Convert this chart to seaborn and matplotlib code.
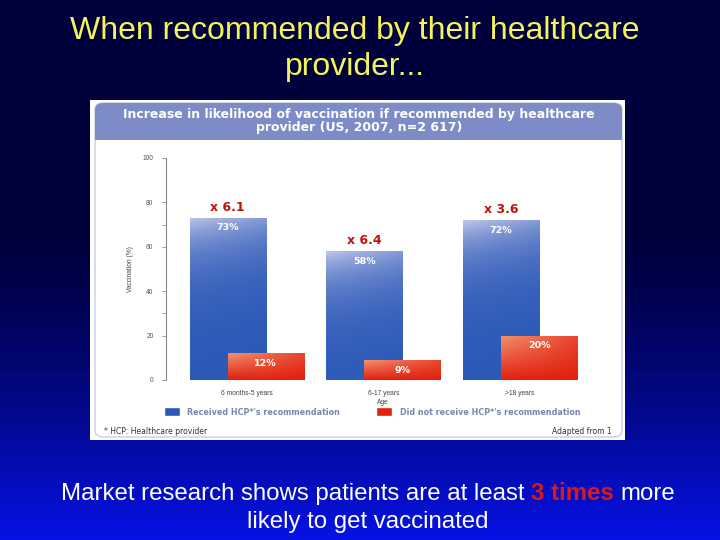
import numpy as np
import pandas as pd
import seaborn as sns
import matplotlib.pyplot as plt
from matplotlib.patches import Rectangle, FancyBboxPatch, Patch
from matplotlib.colors import to_rgb

# data
ages = ["6 months-5 years", "6-17 years", ">18 years"]
received = [73, 58, 72]
not_received = [12, 9, 20]
factors = ["x 6.1", "x 6.4", "x 3.6"]
groups = ["Received HCP*'s recommendation", "Did not receive HCP*'s recommendation"]

df = pd.DataFrame({
    "age": ages * 2,
    "pct": received + not_received,
    "group": [groups[0]] * len(ages) + [groups[1]] * len(ages),
})

BLUE = "#2b58b8"
RED = "#e2200e"
W, H = 720, 540

sns.set_theme(style="white")
plt.rcParams["font.family"] = ["Liberation Sans", "DejaVu Sans"]

fig = plt.figure(figsize=(7.2, 5.4), dpi=100)


def box(x0, y0, x1, y1):
    # pixel box (top-left origin) -> figure fraction rect
    return [x0 / W, 1 - y1 / H, (x1 - x0) / W, (y1 - y0) / H]


def fx(x):
    return x / W


def fy(y):
    return 1 - y / H


# slide background: dark navy turning bright blue near the bottom
bg = fig.add_axes([0, 0, 1, 1])
bg.axis("off")
bg.set_zorder(-5)
t = np.linspace(0, 1, H)
ramp = np.clip((t - 0.42) / 0.58, 0, 1) ** 1.4
top = np.array(to_rgb("#00003c"))
bot = np.array(to_rgb("#0612e6"))
grad = top[None, :] * (1 - ramp[:, None]) + bot[None, :] * ramp[:, None]
bg.imshow(grad[:, None, :], aspect="auto", extent=[0, 1, 0, 1], origin="upper")
bg.set_xlim(0, 1)
bg.set_ylim(0, 1)

# title
fig.text(fx(355), fy(49), "When recommended by their healthcare\nprovider...",
         ha="center", va="center", color="#f4f45a", fontsize=23, linespacing=1.22)

# white picture panel
fig.add_artist(Rectangle((fx(90), fy(440)), (625 - 90) / W, (440 - 100) / H,
                         transform=fig.transFigure, facecolor="white", edgecolor="none",
                         zorder=-1))
fig.add_artist(FancyBboxPatch((fx(95), fy(437)), (622 - 95) / W, (437 - 103) / H,
                              boxstyle="round,pad=0,rounding_size=0.012",
                              transform=fig.transFigure, facecolor="white",
                              edgecolor="#c9cde0", linewidth=1.0, zorder=-1))
fig.add_artist(FancyBboxPatch((fx(95), fy(140)), (622 - 95) / W, (140 - 103) / H,
                              boxstyle="round,pad=0,rounding_size=0.012",
                              transform=fig.transFigure, facecolor="#7d8cc6",
                              edgecolor="none", zorder=-1))
fig.add_artist(Rectangle((fx(95), fy(140)), (622 - 95) / W, 12 / H,
                         transform=fig.transFigure, facecolor="#7d8cc6", edgecolor="none",
                         zorder=-1))
fig.text(fx(359), fy(121),
         "Increase in likelihood of vaccination if recommended by healthcare\n"
         "provider (US, 2007, n=2 617)",
         ha="center", va="center", color="white", fontsize=9.0, weight="bold",
         family="DejaVu Sans", linespacing=0.98)

# chart
ax = fig.add_axes(box(166, 158, 600, 380))
ax.set_zorder(2)
ax.set_facecolor("none")
sns.barplot(data=df, x="age", y="pct", hue="group", palette=[BLUE, RED],
            width=0.556, gap=-1, errorbar=None, legend=False, ax=ax)

n = len(ages)
light_b = np.array(to_rgb("#cdd0ec"))
base_b = np.array(to_rgb(BLUE))
light_r = np.array(to_rgb("#f3a07c"))
base_r = np.array(to_rgb(RED))
for i, p in enumerate(ax.patches[:2 * n]):
    x, w, h = p.get_x(), p.get_width(), p.get_height()
    rows = np.linspace(0, h, 80)[:, None]          # distance from the top
    cols = np.linspace(0, 1, 40)[None, :]
    if i < n:
        f = np.exp(-rows / 16.0) * (0.9 - 0.35 * cols)
        img = base_b * (1 - f[..., None]) + light_b * f[..., None]
        zp, zi = 1.0, 1.1
    else:
        f = (1 - rows / max(h, 1)) * (0.9 - 0.6 * cols)
        img = base_r * (1 - f[..., None]) + light_r * f[..., None]
        zp, zi = 1.2, 1.3
    p.set_zorder(zp)
    p.set_edgecolor("none")
    im = ax.imshow(np.clip(img, 0, 1), extent=[x, x + w, 0, h], origin="upper",
                   aspect="auto", zorder=zi)
    im.set_clip_path(p)
ax.set_xlim(-0.589, 2.585)
ax.set_ylim(0, 100)

# labels on bars
for i, p in enumerate(ax.patches[:n]):
    cx = p.get_x() + p.get_width() / 2
    ax.annotate(factors[i], (cx, received[i]), xytext=(0, 3), textcoords="offset points",
                ha="center", va="bottom", color="#c0120e", fontsize=9, weight="bold",
                family="DejaVu Sans")
    ax.annotate(f"{received[i]}%", (cx, received[i]), xytext=(0, -4),
                textcoords="offset points", ha="center", va="top", color="white",
                fontsize=6.8, weight="bold", family="DejaVu Sans", zorder=3)
for i, p in enumerate(ax.patches[n:2 * n]):
    cx = p.get_x() + p.get_width() / 2
    ax.annotate(f"{not_received[i]}%", (cx, not_received[i]), xytext=(0, -4),
                textcoords="offset points", ha="center", va="top", color="white",
                fontsize=6.8, weight="bold", family="DejaVu Sans", zorder=3)

for s in ["top", "right", "bottom"]:
    ax.spines[s].set_visible(False)
ax.spines["left"].set_color("#8a8a8a")
ax.spines["left"].set_linewidth(0.8)
ax.set_yticks([0, 20, 40, 60, 80, 100])
ax.set_yticks([30, 70], minor=True)
ax.tick_params(axis="y", which="both", left=True, length=3, width=0.6, color="#8a8a8a",
               labelsize=4.8, labelcolor="#555555", pad=6)
ax.tick_params(axis="x", bottom=False, labelsize=4.8, labelcolor="#444444", pad=1.5)
ax.set_xlabel("Age", fontsize=4.8, color="#444444", labelpad=1)
ax.set_ylabel("Vaccination (%)", fontsize=4.8, color="#444444", labelpad=6)

# legend
handles = [Patch(facecolor=BLUE), Patch(facecolor=RED)]
leg = fig.legend(handles, groups, loc="center", bbox_to_anchor=(fx(372), fy(412)),
                 ncol=2, frameon=False, handlelength=2.0, handleheight=1.3,
                 columnspacing=4.5, handletextpad=0.9,
                 prop={"family": "DejaVu Sans", "weight": "bold", "size": 5.8})
for txt in leg.get_texts():
    txt.set_color("#7a86b0")

fig.text(fx(104), fy(432), "* HCP: Healthcare provider", ha="left", va="center",
         fontsize=5.5, color="#333333", family="DejaVu Sans")
fig.text(fx(612), fy(432), "Adapted from 1", ha="right", va="center",
         fontsize=5.5, color="#333333", family="DejaVu Sans")

# footer text with red highlight
renderer = fig.canvas.get_renderer()
fs = 17.3


def width_of(s, **kw):
    tt = fig.text(0, 0, s, fontsize=fs, **kw)
    w = tt.get_window_extent(renderer).width
    tt.remove()
    return w


pre, hl, post = "Market research shows patients are at least", "3 times", "more"
space = width_of("a a") - width_of("aa")
w_pre, w_hl, w_post = width_of(pre), width_of(hl, weight="bold"), width_of(post)
total = w_pre + space + w_hl + space + w_post
left = 368 - total / 2
y1 = fy(494)
fig.text(fx(left), y1, pre, fontsize=fs, color="white", va="center")
fig.text(fx(left + w_pre + space), y1, hl, fontsize=fs, color="#d81a1a", weight="bold",
         va="center")
fig.text(fx(left + w_pre + 2 * space + w_hl), y1, post, fontsize=fs, color="white",
         va="center")
fig.text(fx(368), fy(522), "likely to get vaccinated", fontsize=fs, color="white",
         ha="center", va="center")

fig.savefig("out.png", dpi=100)
